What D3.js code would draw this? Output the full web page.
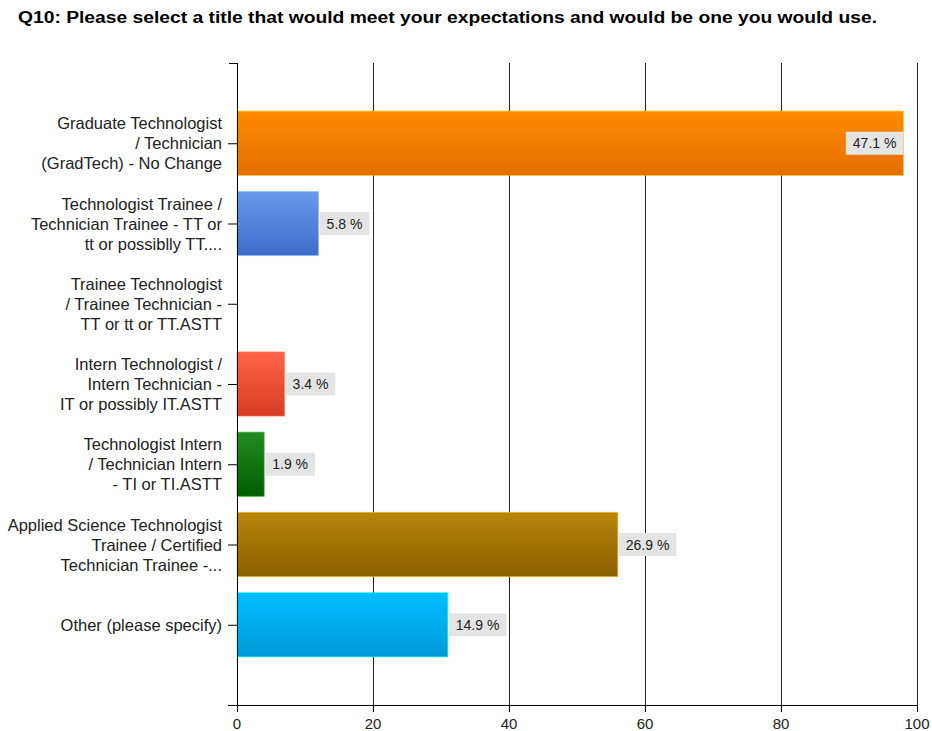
<!DOCTYPE html>
<meta charset="utf-8">
<script src="https://d3js.org/d3.v7.min.js"></script>
<style>
  body { margin: 0; background: #fff; }
</style>
<div id="my_dataviz"></div>
<script>
  // data (bar lengths are respondent counts)
  var categories = [
    ["Graduate Technologist", "/ Technician", "(GradTech) - No Change"],
    ["Technologist Trainee /", "Technician Trainee - TT or", "tt or possiblly TT...."],
    ["Trainee Technologist", "/ Trainee Technician -", "TT or tt or TT.ASTT"],
    ["Intern Technologist /", "Intern Technician -", "IT or possibly IT.ASTT"],
    ["Technologist Intern", "/ Technician Intern", "- TI or TI.ASTT"],
    ["Applied Science Technologist", "Trainee / Certified", "Technician Trainee -..."],
    ["Other (please specify)"]
  ];
  var counts = [98, 12, 0, 7, 4, 56, 31];
  var percents = ["47.1 %", "5.8 %", null, "3.4 %", "1.9 %", "26.9 %", "14.9 %"];
  var colorsTop = ["#ff8c00", "#6a9aec", "#999999", "#ff6347", "#228b22", "#b8860b", "#00bfff"];
  var colorsBottom = ["#e36e00", "#3c6cc8", "#777777", "#d83c24", "#005e00", "#8a5e00", "#009ad8"];
  var xTicks = [0, 20, 40, 60, 80, 100];

  var width = 932, height = 731;
  var plotLeft = 237, plotRight = 917, plotTop = 63, plotBottom = 705;

  var svg = d3.select("#my_dataviz")
    .append("svg")
    .attr("width", width)
    .attr("height", height)
    .style("font-family", "'Liberation Sans', Arial, sans-serif");

  // title
  svg.append("text")
    .attr("x", 18)
    .attr("y", 23)
    .attr("textLength", 859)
    .attr("lengthAdjust", "spacingAndGlyphs")
    .style("font-size", "16px")
    .style("font-weight", "bold")
    .style("fill", "#000")
    .text("Q10: Please select a title that would meet your expectations and would be one you would use.");

  var x = d3.scaleLinear().domain([0, 100]).range([plotLeft, plotRight]);
  var y = d3.scalePoint().domain(d3.range(categories.length)).range([plotTop, plotBottom]).padding(1);
  var barH = y.step() * 0.8;

  // gradients
  var defs = svg.append("defs");
  counts.forEach(function (c, i) {
    var g = defs.append("linearGradient")
      .attr("id", "grad" + i)
      .attr("x1", 0).attr("y1", 0).attr("x2", 0).attr("y2", 1);
    g.append("stop").attr("offset", "0%").attr("stop-color", colorsTop[i]);
    g.append("stop").attr("offset", "100%").attr("stop-color", colorsBottom[i]);
  });

  // vertical gridlines
  svg.selectAll("gridlines")
    .data(xTicks.slice(1))
    .enter()
    .append("line")
    .attr("x1", function (d) { return x(d) + 0.5; })
    .attr("x2", function (d) { return x(d) + 0.5; })
    .attr("y1", plotTop)
    .attr("y2", plotBottom)
    .attr("stroke", "#222")
    .attr("stroke-width", 1);

  // bars
  svg.selectAll("bars")
    .data(counts)
    .enter()
    .append("rect")
    .attr("x", x(0))
    .attr("y", function (d, i) { return y(i) - barH / 2; })
    .attr("width", function (d) { return x(d) - x(0); })
    .attr("height", barH)
    .attr("fill", function (d, i) { return "url(#grad" + i + ")"; })
    .attr("stroke", function (d, i) { return d3.color(colorsTop[i]).brighter(0.8); })
    .attr("stroke-width", function (d) { return d > 0 ? 1 : 0; })
    .attr("stroke-opacity", 0.6);

  // value labels: grey box sized to the text
  var boxH = 23, pad = 7;
  var labels = svg.selectAll("valLabels")
    .data(counts.map(function (d, i) { return { v: d, p: percents[i], i: i }; }).filter(function (d) { return d.p; }))
    .enter()
    .append("g");
  var boxes = labels.append("rect")
    .attr("height", boxH)
    .attr("fill", "#e4e4e4");
  var vtext = labels.append("text")
    .attr("y", boxH / 2 + 5)
    .style("font-size", "14px")
    .style("fill", "#222")
    .text(function (d) { return d.p; });
  vtext.each(function (d) { d.w = this.getComputedTextLength() + 2 * pad; });
  boxes.attr("width", function (d) { return d.w; });
  vtext.attr("x", pad);
  labels.attr("transform", function (d) {
    var bx = x(d.v) + 1;
    if (bx + d.w > plotRight) bx = x(d.v) - d.w;
    return "translate(" + bx + "," + (y(d.i) - boxH / 2) + ")";
  });

  // axes
  svg.append("line")
    .attr("x1", plotLeft + 0.5).attr("x2", plotLeft + 0.5)
    .attr("y1", plotTop).attr("y2", plotBottom + 7)
    .attr("stroke", "#000");
  svg.append("line")
    .attr("x1", plotLeft - 9).attr("x2", plotRight + 1)
    .attr("y1", plotBottom + 0.5).attr("y2", plotBottom + 0.5)
    .attr("stroke", "#000");
  svg.append("line")
    .attr("x1", plotLeft - 8).attr("x2", plotLeft)
    .attr("y1", plotTop + 0.5).attr("y2", plotTop + 0.5)
    .attr("stroke", "#000");

  // x ticks
  svg.selectAll("xTicks")
    .data(xTicks)
    .enter()
    .append("line")
    .attr("x1", function (d) { return x(d) + 0.5; })
    .attr("x2", function (d) { return x(d) + 0.5; })
    .attr("y1", plotBottom)
    .attr("y2", plotBottom + 7)
    .attr("stroke", "#000");
  svg.selectAll("xLabels")
    .data(xTicks)
    .enter()
    .append("text")
    .attr("x", function (d) { return x(d); })
    .attr("y", plotBottom + 24)
    .attr("text-anchor", "middle")
    .style("font-size", "15px")
    .style("fill", "#222")
    .text(function (d) { return d; });

  // y ticks and category labels
  svg.selectAll("yTicks")
    .data(categories)
    .enter()
    .append("line")
    .attr("x1", plotLeft - 9)
    .attr("x2", plotLeft)
    .attr("y1", function (d, i) { return y(i) + 0.5; })
    .attr("y2", function (d, i) { return y(i) + 0.5; })
    .attr("stroke", "#000");

  var cat = svg.selectAll("catLabels")
    .data(categories)
    .enter()
    .append("text")
    .attr("text-anchor", "end")
    .style("font-size", "16.5px")
    .style("fill", "#222");
  cat.each(function (d, i) {
    var t = d3.select(this);
    var n = d.length;
    d.forEach(function (line, k) {
      t.append("tspan")
        .attr("x", 222)
        .attr("y", y(i) + 6 + (k - (n - 1) / 2) * 20)
        .text(line);
    });
  });
</script>
